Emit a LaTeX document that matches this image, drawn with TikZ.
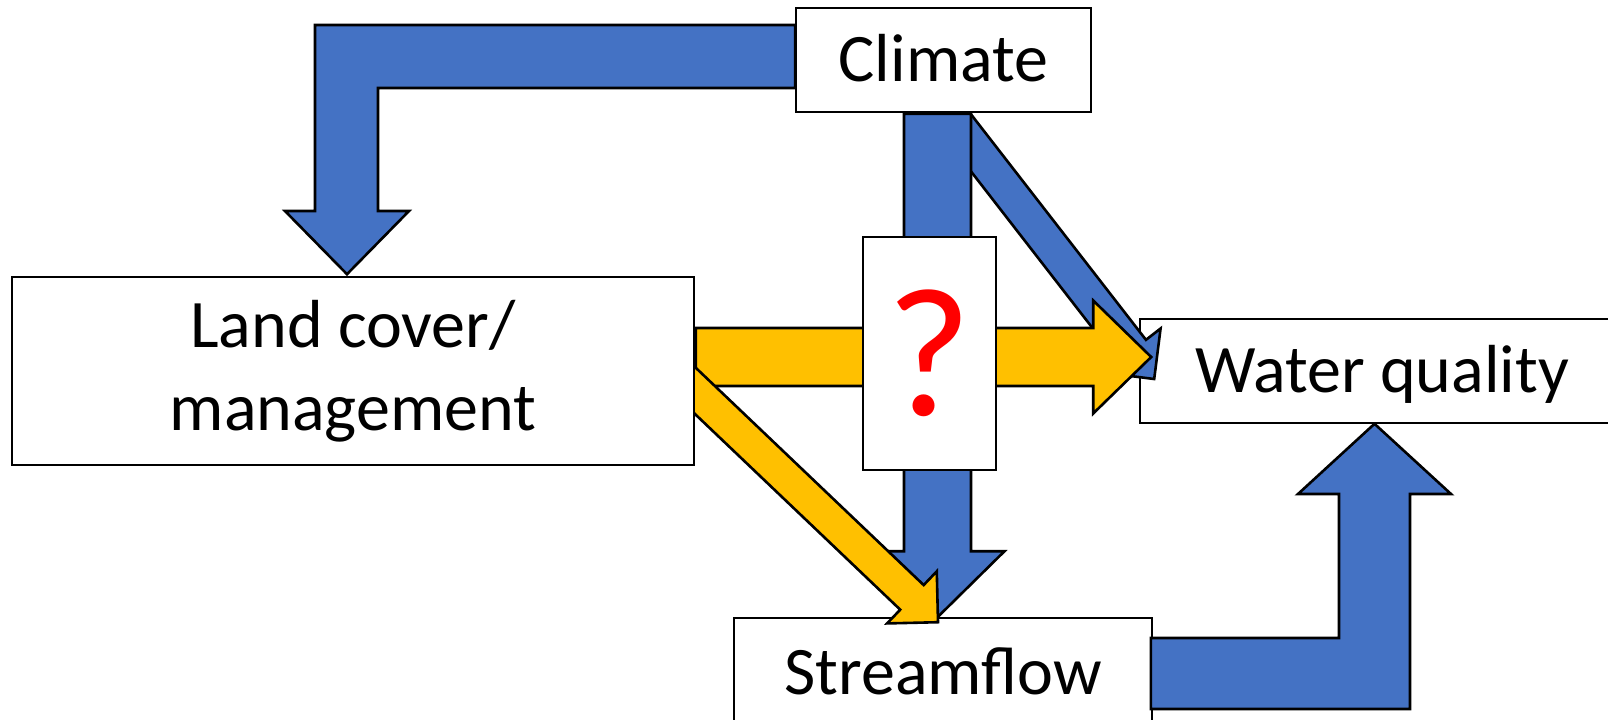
\documentclass[tikz,border=0pt]{standalone}
\usepackage{fontspec}
\setmainfont{Carlito}
\usetikzlibrary{calc}
\definecolor{cB}{HTML}{4472C4}
\definecolor{cY}{HTML}{FFC000}
\definecolor{cR}{HTML}{FF0000}
\pgfdeclarelayer{bg}
\pgfdeclarelayer{blue}
\pgfdeclarelayer{gold}
\pgfsetlayers{bg,blue,gold,main}
\tikzset{
  box/.style={draw,line width=0.8pt,fill=white,inner sep=0pt,align=center,
              font=\fontsize{34}{41.5}\selectfont},
  oneline/.style={text height=21.5pt,text depth=0pt},
  blu/.style={draw,line width=1.3pt,fill=cB,miter limit=20},
  gld/.style={draw,line width=1.3pt,fill=cY,miter limit=20},
}
% block arrow: style, from, to, half shaft, half head, head length
\newcommand\blockarrow[6]{%
  \coordinate (ba) at ($(#3)!#6!(#2)$);
  \path[#1] ($(#2)!#4!90:(#3)$) -- ($(ba)!#4!90:(#3)$) -- ($(ba)!#5!90:(#3)$)
    -- (#3) -- ($(ba)!#5!-90:(#3)$) -- ($(ba)!#4!-90:(#3)$)
    -- ($(#2)!#4!-90:(#3)$) -- cycle;}

\begin{document}
\begin{tikzpicture}[x=0.5pt,y=-0.5pt]
  \clip (0,0) rectangle (1608,719);
  \begin{pgfonlayer}{bg}
    \node[box,oneline,minimum width=242pt,minimum height=52pt] (wq) at (1382,371) {Water quality};
    \node[box,oneline,minimum width=209pt,minimum height=54.5pt] (sf) at (943,672.5) {Streamflow};
  \end{pgfonlayer}
  \node[box,oneline,minimum width=147.5pt,minimum height=52pt] (clim) at (943.5,60) {Climate};
  \node[box,minimum width=341pt,minimum height=94pt] (lc) at (353,371) {Land cover/\\management};
  \node[box,text=cR,minimum width=66.5pt,minimum height=116.5pt,
        font=\fontsize{92}{100}\selectfont] (q) at (929.5,353.5) {?};
  % climate effects
  \begin{pgfonlayer}{blue}
    \blockarrow{blu}{$(clim.south)+(6.5,3)$}{$(wq.west)+(15,8)$}{8.75pt}{18pt}{18pt}
    \blockarrow{blu}{$(clim.south)+(-6,1)$}{$(sf.north)+(-5.5,0)$}{16.75pt}{33.5pt}{33pt}
    \path[blu] ($(clim.west)+(0,-35)$) -- (315,25) -- (315,211) -- (285,211)
      -- ($(lc.north)+(-6,-2)$) -- (409,211) -- (378,211) -- (378,88)
      -- ($(clim.west)+(0,28)$) -- cycle;
    \path[blu] ($(sf.east)+(-2,-34.5)$) -- (1339,638) -- (1339,494) -- (1298,494)
      -- ($(wq.south)+(-7.5,0)$) -- (1451,494) -- (1410,494) -- (1410,709)
      -- ($(sf.east)+(-2,36.5)$) -- cycle;
  \end{pgfonlayer}
  % land cover effects
  \begin{pgfonlayer}{gold}
    \blockarrow{gld}{$(lc.east)+(1,-14)$}{$(wq.west)+(12,-14)$}{14.5pt}{28.25pt}{29pt}
    \blockarrow{gld}{$(lc.east)+(-14,6)$}{$(sf.north)+(-5,5)$}{8.5pt}{18pt}{18pt}
  \end{pgfonlayer}
\end{tikzpicture}
\end{document}
